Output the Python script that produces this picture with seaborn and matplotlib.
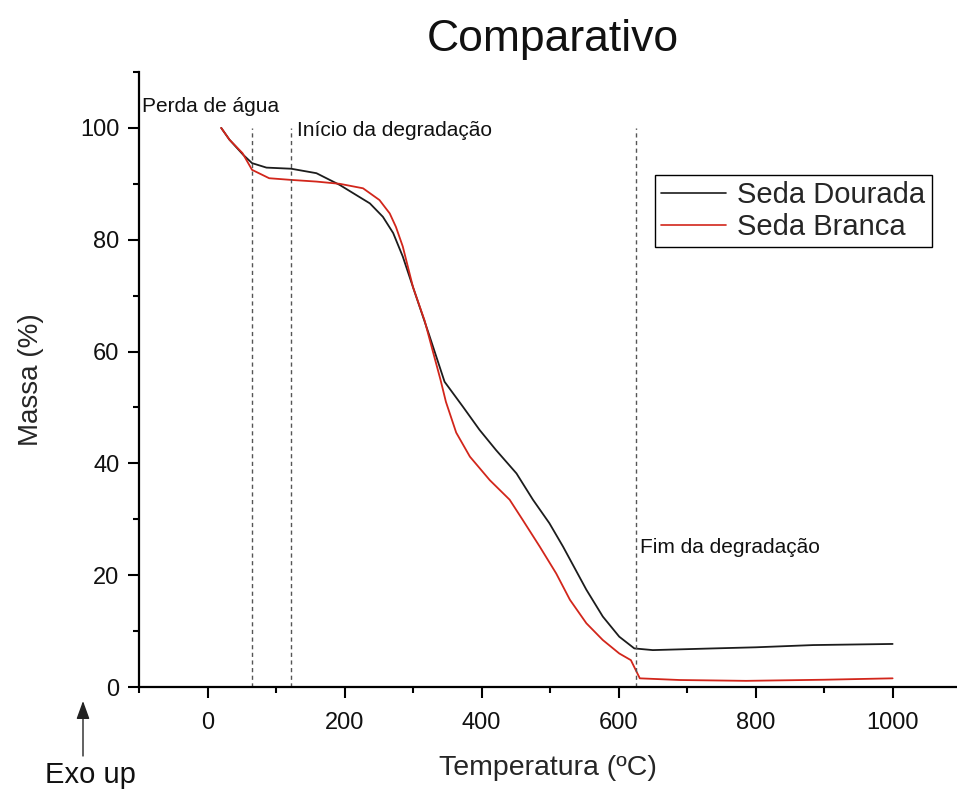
import numpy as np
import pandas as pd
import matplotlib
matplotlib.use("Agg")
import matplotlib.pyplot as plt
from matplotlib.ticker import MultipleLocator
import seaborn as sns

# ---- data ----
temp_dourada = [20, 32, 52, 65, 86, 122, 159, 193, 237, 256, 271, 285, 300, 324,
                346, 373, 397, 421, 451, 475, 499, 519, 538, 553, 577, 601, 623,
                650, 738, 800, 884, 1000]
massa_dourada = [100, 97.9, 95.2, 93.7, 92.9, 92.7, 91.9, 89.8, 86.5, 84.1, 81.2,
                 77.0, 71.5, 62.8, 54.6, 50.1, 46.0, 42.4, 38.2, 33.5, 29.3, 25.1,
                 20.8, 17.4, 12.6, 9.0, 6.9, 6.6, 6.9, 7.1, 7.5, 7.7]

temp_branca = [20, 32, 51, 65, 90, 122, 159, 193, 227, 251, 266, 275, 285, 300,
               317, 329, 340, 348, 363, 383, 412, 441, 460, 485, 509, 529, 553,
               577, 601, 618, 626, 631, 689, 786, 900, 1000]
massa_branca = [100, 97.9, 95.5, 92.5, 91.0, 90.7, 90.4, 90.0, 89.2, 87.1, 84.7,
                82.3, 78.8, 71.5, 65.5, 60.0, 55.0, 51.0, 45.5, 41.2, 37.0, 33.5,
                29.9, 25.1, 20.3, 15.6, 11.4, 8.4, 6.0, 4.8, 2.8, 1.55, 1.25, 1.1,
                1.3, 1.55]

series_names = ["Seda Dourada", "Seda Branca"]
series_colors = ["#1c1c1c", "#d2261b"]

vline_temps = [65, 122, 625]
annot_texts = ["Perda de água", "Início da degradação", "Fim da degradação"]
annot_pos = [(-96, 103.9), (130, 99.6), (631, 25.0)]

x_ticks = [0, 200, 400, 600, 800, 1000]
y_ticks = [0, 20, 40, 60, 80, 100]

# ---- build table ----
df = pd.concat([
    pd.DataFrame({"Temperatura": temp_dourada, "Massa": massa_dourada,
                  "Amostra": series_names[0]}),
    pd.DataFrame({"Temperatura": temp_branca, "Massa": massa_branca,
                  "Amostra": series_names[1]}),
], ignore_index=True)

sns.set_style("ticks")
plt.rcParams["font.family"] = ["Liberation Sans", "DejaVu Sans"]

fig = plt.figure(figsize=(9.57, 7.89), dpi=100)
ax = fig.add_axes([139 / 957, 102 / 789, 818 / 957, 615 / 789])

sns.lineplot(data=df, x="Temperatura", y="Massa", hue="Amostra",
             palette=dict(zip(series_names, series_colors)), linewidth=1.3,
             ax=ax, sort=True, estimator=None)

ax.vlines(vline_temps, 0, 100, colors="#555555", linestyles=(0, (3, 2.5)),
          linewidth=1.0)

for txt, (xx, yy) in zip(annot_texts, annot_pos):
    ax.text(xx, yy, txt, fontsize=15, ha="left", va="center", color="#111111")

ax.set_xlim(-100, 1094)
ax.set_ylim(0, 110)
ax.set_xticks(x_ticks)
ax.set_yticks(y_ticks)
ax.xaxis.set_minor_locator(MultipleLocator(100))
ax.yaxis.set_minor_locator(MultipleLocator(10))
ax.tick_params(which="major", length=8, width=1.5, labelsize=17, color="black",
               labelcolor="#111111")
ax.tick_params(axis="x", which="major", pad=10)
ax.tick_params(axis="y", which="major", pad=6)
ax.tick_params(which="minor", length=4.5, width=1.5, color="black")
sns.despine(ax=ax)
for s in ["left", "bottom"]:
    ax.spines[s].set_linewidth(1.6)
    ax.spines[s].set_color("black")

ax.set_xlabel("Temperatura (ºC)", fontsize=20.5, labelpad=15)
ax.set_ylabel("Massa (%)", fontsize=20, labelpad=26)

leg = ax.legend(loc="upper left", bbox_to_anchor=((655 - 139) / 818, (687 - 175) / 615),
                borderaxespad=0, fontsize=21, frameon=True, fancybox=False,
                edgecolor="black", framealpha=1, handlelength=2.2,
                handletextpad=0.4, labelspacing=0.12, borderpad=0.22,
                title=None)
leg.get_frame().set_linewidth(1.0)
for line in leg.get_lines():
    line.set_linewidth(1.2)

fig.text(553 / 957, 1 - 51 / 789, "Comparativo", fontsize=32, ha="center",
         va="baseline", color="#111111")

fig.text(90 / 957, 1 - 783 / 789, "Exo up", fontsize=21, ha="center",
         va="baseline", color="#111111")
fig.add_artist(matplotlib.patches.FancyArrowPatch(
    (83 / 957, 1 - 756 / 789), (83 / 957, 1 - 701 / 789),
    transform=fig.transFigure, arrowstyle="-|>,head_length=0.55,head_width=0.2",
    color="#222222", linewidth=1.0, mutation_scale=20, shrinkA=0, shrinkB=0))

fig.savefig("out.png", dpi=100)
